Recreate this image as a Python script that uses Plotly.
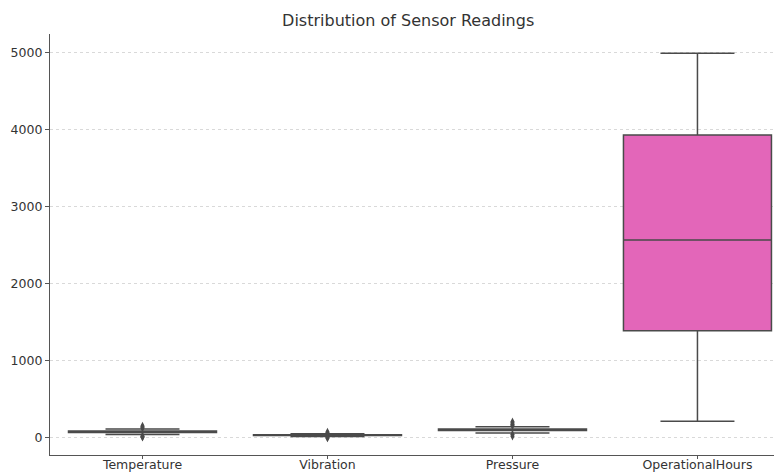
import plotly.graph_objects as go

categories = ["Temperature", "Vibration", "Pressure", "OperationalHours"]
q1 = [65, 25, 90, 1385]
median = [75, 30, 100, 2565]
q3 = [85, 35, 112, 3930]
lower_fence = [40, 12, 60, 210]
upper_fence = [110, 48, 140, 4990]
fill_colors = ["#7fc97f", "#beaed4", "#fdc086", "#e366b9"]

outlier_cats = ["Temperature"] * 6 + ["Vibration"] * 4 + ["Pressure"] * 6
outlier_vals = [125, 135, 150, 20, 10, 2,
                60, 72, 0, -8,
                155, 170, 190, 205, 40, 15]

line_color = "#4a4a4a"
fig = go.Figure()
for i, c in enumerate(categories):
    fig.add_trace(go.Box(
        x=[c], q1=[q1[i]], median=[median[i]], q3=[q3[i]],
        lowerfence=[lower_fence[i]], upperfence=[upper_fence[i]],
        fillcolor=fill_colors[i], line=dict(color=line_color, width=1.5),
        width=0.8, whiskerwidth=0.5, boxpoints=False, showlegend=False,
        hoverinfo="skip",
    ))

fig.add_trace(go.Scatter(
    x=outlier_cats, y=outlier_vals, mode="markers",
    marker=dict(symbol="diamond-tall", size=6, color="#4a4a4a"),
    showlegend=False, hoverinfo="skip",
))

# page has an 8px body margin, so the figure is sized 8px smaller
fig.update_layout(
    width=774, height=467,
    margin=dict(l=42, r=0, t=26, b=20, autoexpand=False),
    paper_bgcolor="white", plot_bgcolor="white",
    font=dict(family="DejaVu Sans", size=12, color="#333333"),
    title=dict(text="Distribution of Sensor Readings", x=0.517, xanchor="center",
               y=0.974, yanchor="middle", font=dict(size=16, color="#333333")),
    xaxis=dict(
        categoryorder="array", categoryarray=categories,
        range=[-0.5, 3.457], showgrid=False, showline=True,
        linecolor="#555555", linewidth=1.2, ticks="outside", ticklen=3,
        tickcolor="#555555", zeroline=False, tickfont=dict(size=12.5),
        ticklabelstandoff=-5,
    ),
    yaxis=dict(
        range=[-227, 5240], tickvals=[0, 1000, 2000, 3000, 4000, 5000],
        showgrid=True, gridcolor="#d9d9d9", gridwidth=0.6, griddash="dot",
        showline=True, linecolor="#555555", linewidth=1.2,
        ticks="outside", ticklen=4, tickcolor="#555555", zeroline=False,
        tickfont=dict(size=12.5),
    ),
)

fig.write_html("out.html")
